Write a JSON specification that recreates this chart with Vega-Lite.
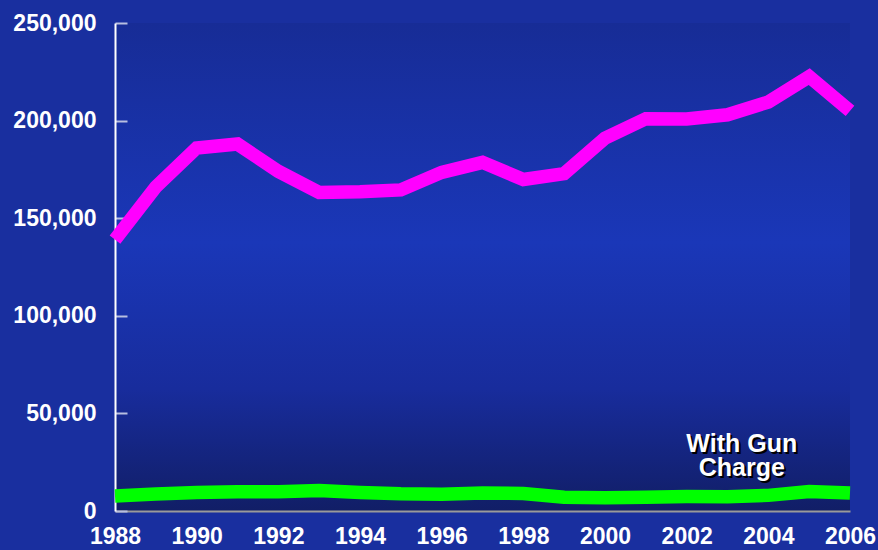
{
  "$schema": "https://vega.github.io/schema/vega-lite/v6.json",
  "autosize": {"type": "none"},
  "width": 735,
  "height": 488,
  "padding": {"left": 115, "top": 23, "right": 28, "bottom": 39},
  "background": "#192f9f",
  "config": {
    "view": {
      "stroke": null,
      "fill": {
        "gradient": "linear",
        "x1": 0, "y1": 0, "x2": 0, "y2": 1,
        "stops": [
          {"offset": 0, "color": "#172c96"},
          {"offset": 0.45, "color": "#1a37b8"},
          {"offset": 0.75, "color": "#182c9c"},
          {"offset": 1, "color": "#111e66"}
        ]
      }
    },
    "font": "Liberation Sans"
  },
  "datasets": {
    "series": [
      {"year": 1988, "series": "All", "value": 139000},
      {"year": 1989, "series": "All", "value": 166000},
      {"year": 1990, "series": "All", "value": 186000},
      {"year": 1991, "series": "All", "value": 188000},
      {"year": 1992, "series": "All", "value": 174000},
      {"year": 1993, "series": "All", "value": 163200},
      {"year": 1994, "series": "All", "value": 163500},
      {"year": 1995, "series": "All", "value": 164500},
      {"year": 1996, "series": "All", "value": 173500},
      {"year": 1997, "series": "All", "value": 178600},
      {"year": 1998, "series": "All", "value": 169800},
      {"year": 1999, "series": "All", "value": 172800},
      {"year": 2000, "series": "All", "value": 191000},
      {"year": 2001, "series": "All", "value": 201000},
      {"year": 2002, "series": "All", "value": 200800},
      {"year": 2003, "series": "All", "value": 203000},
      {"year": 2004, "series": "All", "value": 209500},
      {"year": 2005, "series": "All", "value": 222500},
      {"year": 2006, "series": "All", "value": 205000},
      {"year": 1988, "series": "With Gun Charge", "value": 7700},
      {"year": 1989, "series": "With Gun Charge", "value": 8700},
      {"year": 1990, "series": "With Gun Charge", "value": 9500},
      {"year": 1991, "series": "With Gun Charge", "value": 9800},
      {"year": 1992, "series": "With Gun Charge", "value": 9800},
      {"year": 1993, "series": "With Gun Charge", "value": 10500},
      {"year": 1994, "series": "With Gun Charge", "value": 9500},
      {"year": 1995, "series": "With Gun Charge", "value": 8800},
      {"year": 1996, "series": "With Gun Charge", "value": 8600},
      {"year": 1997, "series": "With Gun Charge", "value": 9200},
      {"year": 1998, "series": "With Gun Charge", "value": 9000},
      {"year": 1999, "series": "With Gun Charge", "value": 7000},
      {"year": 2000, "series": "With Gun Charge", "value": 6800},
      {"year": 2001, "series": "With Gun Charge", "value": 7100},
      {"year": 2002, "series": "With Gun Charge", "value": 7400},
      {"year": 2003, "series": "With Gun Charge", "value": 7300},
      {"year": 2004, "series": "With Gun Charge", "value": 8000},
      {"year": 2005, "series": "With Gun Charge", "value": 10000},
      {"year": 2006, "series": "With Gun Charge", "value": 9200}
    ],
    "labels": [
      {"year": 2003.35, "value": 34500, "label": ["With Gun", "Charge"]}
    ]
  },
  "layer": [
    {
      "data": {"name": "series"},
      "mark": {"type": "line", "strokeWidth": 13.5, "strokeCap": "butt", "strokeJoin": "miter"},
      "encoding": {
        "x": {
          "field": "year", "type": "quantitative",
          "scale": {"domain": [1988, 2006], "nice": false, "zero": false},
          "axis": {
            "title": null,
            "values": [1988, 1990, 1992, 1994, 1996, 1998, 2000, 2002, 2004, 2006],
            "format": "d",
            "grid": false,
            "ticks": false,
            "domainColor": "#9a9a9a",
            "domainWidth": 2,
            "labelColor": "#ffffff",
            "labelFont": "Liberation Sans",
            "labelFontSize": 23,
            "labelFontWeight": "bold",
            "labelPadding": 14,
            "labelFlush": false,
            "labelOverlap": false
          }
        },
        "y": {
          "field": "value", "type": "quantitative",
          "scale": {"domain": [0, 250000], "nice": false},
          "axis": {
            "title": null,
            "values": [0, 50000, 100000, 150000, 200000, 250000],
            "format": ",d",
            "grid": false,
            "domainColor": "#ffffff",
            "domainWidth": 2,
            "tickColor": "#b8bfe0",
            "tickSize": -12,
            "tickWidth": 2,
            "labelColor": "#ffffff",
            "labelFont": "Liberation Sans",
            "labelFontSize": 23,
            "labelFontWeight": "bold",
            "labelPadding": 31,
            "labelFlush": false,
            "labelOverlap": false
          }
        },
        "color": {
          "field": "series", "type": "nominal",
          "scale": {"domain": ["All", "With Gun Charge"], "range": ["#ff00ff", "#00ff00"]},
          "legend": null
        }
      }
    },
    {
      "data": {"name": "labels"},
      "mark": {"type": "text", "font": "Liberation Sans", "fontSize": 25, "fontWeight": "bold", "color": "#000000", "dx": 2, "dy": 2, "lineHeight": 24, "align": "center", "baseline": "middle"},
      "encoding": {
        "x": {"field": "year", "type": "quantitative"},
        "y": {"field": "value", "type": "quantitative"},
        "text": {"field": "label"}
      }
    },
    {
      "data": {"name": "labels"},
      "mark": {"type": "text", "font": "Liberation Sans", "fontSize": 25, "fontWeight": "bold", "color": "#ffffff", "lineHeight": 24, "align": "center", "baseline": "middle"},
      "encoding": {
        "x": {"field": "year", "type": "quantitative"},
        "y": {"field": "value", "type": "quantitative"},
        "text": {"field": "label"}
      }
    }
  ]
}
